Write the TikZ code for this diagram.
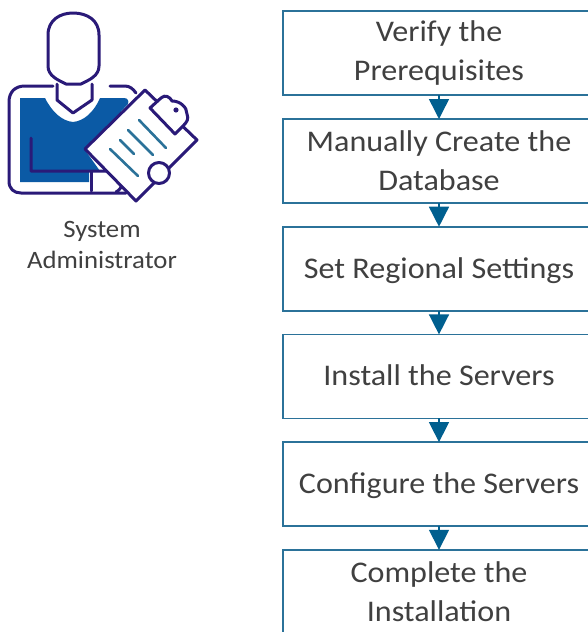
\documentclass[tikz,border=0pt]{standalone}
\usepackage{fontspec}
\setmainfont[FakeStretch=1.07]{Carlito}
\usetikzlibrary{arrows.meta, positioning}
\definecolor{stageblue}{HTML}{2B7299}
\definecolor{tipblue}{HTML}{005F8F}
\definecolor{iconline}{HTML}{2A1A78}
\definecolor{iconfill}{HTML}{0B5AA5}
\definecolor{textgray}{HTML}{404040}
\begin{document}
\begin{tikzpicture}
[
x=1pt, y=-1pt, node distance=23.7pt,
stage/.style={rectangle, draw=stageblue, line width=1.8pt, outer sep=0pt,
              minimum width=312pt, minimum height=84pt, align=center, text=textgray,
              font=\fontsize{30}{39}\selectfont},
oneline/.style={stage, text height=19pt, text depth=0pt},
flow/.style={draw=tipblue, line width=1.5pt, -{Triangle[length=20pt,width=20pt]}},
outline/.style={draw=iconline, line width=3pt, line join=round, line cap=round},
sheetline/.style={draw=stageblue, line width=2.6pt, line cap=round}
]
    \useasboundingbox (0,0) rectangle (587,632);

    \fill[white] (0,0) rectangle (587,632);

    \node[stage] (verify) at (439,53.3) {Verify the\\Prerequisites};
    \node[stage] (database) [below=of verify] {Manually Create the\\Database};
    \node[oneline] (regional) [below=of database] {Set Regional Settings};
    \node[oneline] (install) [below=of regional] {Install the Servers};
    \node[oneline] (configure) [below=of install] {Configure the Servers};
    \node[stage] (complete) [below=of configure] {Complete the\\Installation};
    \draw[flow] (verify) -- (database);
    \draw[flow] (database) -- (regional);
    \draw[flow] (regional) -- (install);
    \draw[flow] (install) -- (configure);
    \draw[flow] (configure) -- (complete);

    \node[align=center, text=textgray, font=\fontsize{25}{31}\selectfont] (admin) at (102,245) {System\\Administrator};

    % person
    \fill[iconfill] (20,98) -- (45,98) .. controls (52,112) and (62,121) .. (73,122)
        .. controls (84,121) and (94,112) .. (100,98) -- (124,98) .. controls (128,98) and (129,101) .. (128,104)
        -- (85,150) -- (100,171) -- (89,171) -- (89,182) -- (20,182) -- cycle;
    \draw[outline] (53,86) -- (25,86) .. controls (15,86) and (9,92) .. (9,102) -- (9,181)
        .. controls (9,189) and (14,193) .. (21,193) -- (126,193);
    \draw[outline] (110,86) -- (125,86) .. controls (130,86) and (133,89) .. (136,93);
    \draw[outline] (57,84) -- (57,100) -- (73,113) -- (92,100) -- (92,84);
    \draw[outline] (66,84) .. controls (58,80) and (48,76) .. (48,66) -- (48,35)
        .. controls (48,20) and (60,13) .. (73,13) .. controls (87,13) and (99,20) .. (99,35)
        -- (99,66) .. controls (99,76) and (89,80) .. (81,84) -- cycle;
    \draw[outline] (31,138) -- (31,171) -- (112,171) .. controls (120,172) and (122,176) .. (122,181)
        .. controls (122,187) and (120,190) .. (116,192);
    \draw[outline] (91,172) -- (91,191);

    % clipboard
    \draw[outline, fill=white] (145,90) -- (197,140) -- (136,201) -- (85,149) -- cycle;
    \draw[outline, fill=white] (150,108) -- (161,98) .. controls (165,94) and (170,97) .. (172,101)
        .. controls (180,101) and (187,107) .. (187,114) .. controls (189,119) and (187,122) .. (183,126)
        -- (175,134) -- cycle;
    \fill[iconline] (176,110) circle (2.6);
    \draw[outline, fill=white] (159,173) circle (10.5);
    \draw[sheetline] (139,120) -- (166,148);
    \draw[sheetline] (128,130) -- (153,155);
    \draw[sheetline] (120,140) -- (134,154);
    \draw[sheetline] (110,149) -- (138,176);
\end{tikzpicture}
\end{document}
